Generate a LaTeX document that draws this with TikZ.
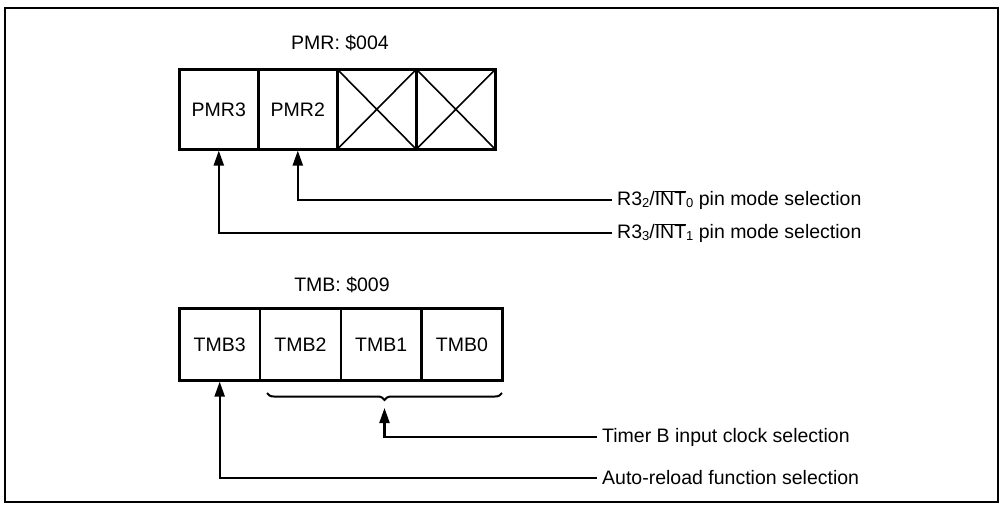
\documentclass[tikz,border=0pt]{standalone}
\usepackage{fontspec}
\setmainfont{Liberation Sans}
\usetikzlibrary{arrows.meta,decorations.pathreplacing}
\tikzset{
  cell/.style={draw, line width=2.6pt, minimum height=#1, inner sep=0pt, anchor=north west},
  title/.style={font=\fontsize{19.5}{22}\selectfont},
  lbl/.style={font=\fontsize{19.5}{22}\selectfont, anchor=west, inner xsep=5pt, inner ysep=0pt},
  conn/.style={line width=2.2pt, -{Triangle[length=15pt,width=10pt]}},
  xbox/.style={path picture={\draw[line width=1.6pt] (path picture bounding box.north west) -- (path picture bounding box.south east) (path picture bounding box.south west) -- (path picture bounding box.north east);}}
}
\newcommand{\ovl}[1]{\ensuremath{\overline{\mbox{#1}}}}
\newcommand{\sub}[1]{\raisebox{-1.5pt}{\fontsize{13}{14}\selectfont #1}}
\begin{document}
\begin{tikzpicture}[x=1pt,y=-1pt]
\useasboundingbox (0,0) rectangle (1002,504);
\draw[line width=2.6pt] (5,8) rectangle (998,502);

% PMR register
\node[title] (pmrt) at (340,43) {PMR: \$004};
\node[cell=80pt, minimum width=79pt, title] (p3) at (178,68) {PMR3};
\node[cell=80pt, minimum width=79pt, title] (p2) at (257,68) {PMR2};
\node[cell=80pt, minimum width=79pt, xbox] (p1) at (336,68) {};
\node[cell=80pt, minimum width=79pt, xbox] (p0) at (415,68) {};

\node[lbl] (t1) at (612,200) {R3\sub{2}/\ovl{INT}\sub{0} pin mode selection};
\node[lbl] (t2) at (612,233) {R3\sub{3}/\ovl{INT}\sub{1} pin mode selection};
\draw[conn] (t1.west) -| (p2.south);
\draw[conn] (t2.west) -| (p3.south);

% TMB register
\node[title] (tmbt) at (342,285) {TMB: \$009};
\node[cell=72pt, minimum width=80.75pt, title] (b3) at (178,307) {TMB3};
\node[cell=72pt, minimum width=80.75pt, title] (b2) at (258.75,307) {TMB2};
\node[cell=72pt, minimum width=80.75pt, title] (b1) at (339.5,307) {TMB1};
\node[cell=72pt, minimum width=80.75pt, title] (b0) at (420.25,307) {TMB0};

\coordinate (bl) at (267,393);
\coordinate (br) at (502,393);
\draw[line width=2pt, decorate, decoration={brace, mirror, amplitude=7pt}] (bl) -- (br);
\coordinate (bt) at (384.5,408);

\node[lbl] (t3) at (597,437) {Timer B input clock selection};
\node[lbl] (t4) at (597,478) {Auto-reload function selection};
\draw[conn] (t3.west) -| (bt);
\draw[conn] (t4.west) -| (b3.south);
\end{tikzpicture}
\end{document}
